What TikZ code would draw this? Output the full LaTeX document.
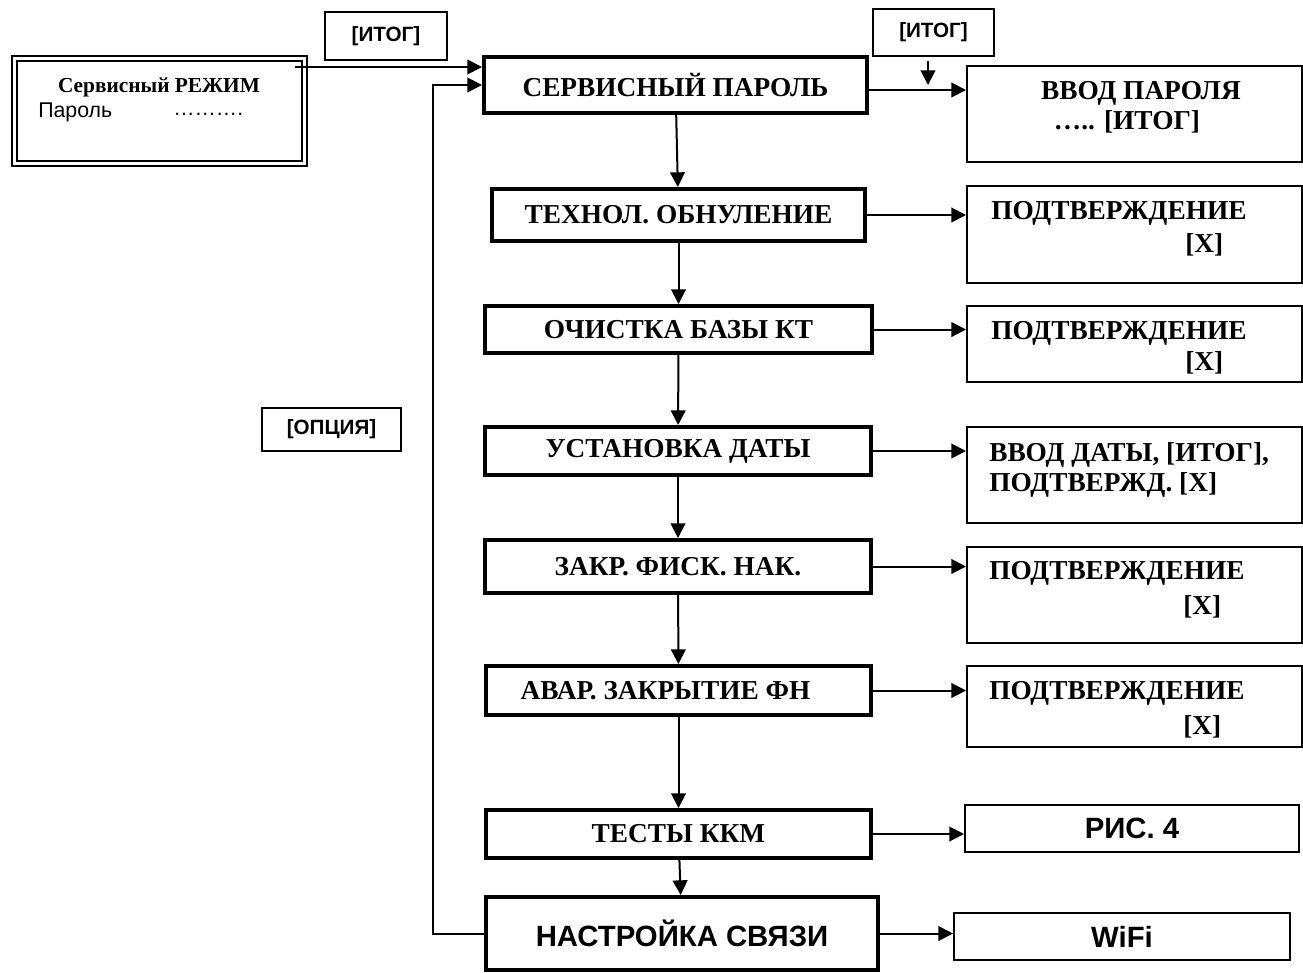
\documentclass[tikz,border=0pt]{standalone}
\usepackage{fontspec}
\setmainfont{Liberation Serif}
\newfontfamily\arialfont{Liberation Sans}
\usetikzlibrary{arrows.meta}
\newlength\pxu
\setlength\pxu{0.75pt}
\newcommand{\bigserif}{\bfseries\fontsize{20.5}{24}\selectfont}
\newcommand{\bigsans}{\arialfont\bfseries\fontsize{22}{26}\selectfont}
\begin{document}
\begin{tikzpicture}[x=0.75pt,y=-0.75pt,>={Triangle[length=11pt,width=11pt]},
  mainbox/.style={draw,line width=3pt,inner sep=0pt,font=\bigserif},
  sidebox/.style={draw,line width=1.5pt,inner sep=0pt},
  keybox/.style={draw,line width=1.2pt,inner sep=0pt,font=\arialfont\bfseries\fontsize{15.5}{18}\selectfont},
  sidetxt/.style={inner sep=0pt,anchor=west,font=\bigserif},
  arr/.style={->,line width=1.5pt}]
\useasboundingbox (0,0) rectangle (1303,972);
% entry box
\node[draw,double,line width=1.5pt,double distance=2.25pt,minimum width=290\pxu,minimum height=104.5\pxu] (svc) at (159.5,111) {};
\node[font=\bfseries\fontsize{16}{19}\selectfont] (svct) at (159,87) {Сервисный РЕЖИМ};
\node[anchor=west,inner sep=0pt,font=\arialfont\fontsize{16}{19}\selectfont] (pwd) at (38,112) {Пароль};
\node[anchor=west,inner sep=0pt,font=\arialfont\fontsize{16}{19}\selectfont] (dots) at (173,114) {……….};
% keys
\node[keybox,minimum width=122\pxu,minimum height=48\pxu] (itog1) at (386,36) {[ИТОГ]};
\node[keybox,minimum width=121\pxu,minimum height=47\pxu] (itog2) at (933.5,32.5) {[ИТОГ]};
\node[keybox,minimum width=139\pxu,minimum height=43\pxu] (opt) at (331.5,429.5) {[ОПЦИЯ]};
% menu column
\node[mainbox,minimum width=383\pxu,minimum height=56\pxu] (sp) at (675.5,85) {СЕРВИСНЫЙ ПАРОЛЬ};
\node[mainbox,minimum width=373\pxu,minimum height=52\pxu] (tech) at (678.5,215) {ТЕХНОЛ. ОБНУЛЕНИЕ};
\node[mainbox,minimum width=387\pxu,minimum height=47\pxu] (clean) at (678.5,329.5) {ОЧИСТКА БАЗЫ КТ};
\node[mainbox,minimum width=386\pxu,minimum height=48\pxu] (date) at (678,451) {УСТАНОВКА ДАТЫ};
\node[mainbox,minimum width=386\pxu,minimum height=53\pxu] (fisc) at (678,566.5) {ЗАКР. ФИСК. НАК.};
\node[mainbox,minimum width=385\pxu,minimum height=49\pxu] (avar) at (678.5,690.5) {АВАР. ЗАКРЫТИЕ ФН\hspace*{26\pxu}};
\node[mainbox,minimum width=385\pxu,minimum height=48\pxu] (test) at (678.5,834) {ТЕСТЫ ККМ};
\node[mainbox,minimum width=392\pxu,minimum height=73\pxu,font=\bigsans] (conn) at (682,933.5) {НАСТРОЙКА СВЯЗИ};
% right column
\node[sidebox,minimum width=335\pxu,minimum height=96\pxu] (r1) at (1134.5,114) {};
\node[font=\bigserif] (r1a) at (1141,93) {ВВОД ПАРОЛЯ};
\node[font=\bigserif] (r1b) at (1127,122) {….. [ИТОГ]};
\node[sidebox,minimum width=335\pxu,minimum height=97\pxu] (r2) at (1134.5,234.5) {};
\node[sidetxt] (r2a) at (991,213) {ПОДТВЕРЖДЕНИЕ};
\node[sidetxt] (r2b) at (1185,245) {[X]};
\node[sidebox,minimum width=335\pxu,minimum height=76\pxu] (r3) at (1134.5,344) {};
\node[sidetxt] (r3a) at (991,333) {ПОДТВЕРЖДЕНИЕ};
\node[sidetxt] (r3b) at (1185,363) {[X]};
\node[sidebox,minimum width=335\pxu,minimum height=96\pxu] (r4) at (1134.5,475) {};
\node[sidetxt] (r4a) at (989,455) {ВВОД ДАТЫ, [ИТОГ],};
\node[sidetxt] (r4b) at (989,485) {ПОДТВЕРЖД. [X]};
\node[sidebox,minimum width=335\pxu,minimum height=96\pxu] (r5) at (1134.5,595) {};
\node[sidetxt] (r5a) at (989,573) {ПОДТВЕРЖДЕНИЕ};
\node[sidetxt] (r5b) at (1183,607) {[X]};
\node[sidebox,minimum width=335\pxu,minimum height=81\pxu] (r6) at (1134.5,706.5) {};
\node[sidetxt] (r6a) at (989,693) {ПОДТВЕРЖДЕНИЕ};
\node[sidetxt] (r6b) at (1183,727) {[X]};
\node[sidebox,minimum width=334\pxu,minimum height=47\pxu,font=\bigsans] (r7) at (1132,828.5) {РИС. 4};
\node[sidebox,minimum width=336\pxu,minimum height=47\pxu,font=\bigsans] (r8) at (1122,936.5) {WiFi};
% connectors
\coordinate (sv) at (295,67);
\draw[arr] (sv) -- (sv -| sp.west);
\coordinate (fb) at (433,85);
\draw[arr] (conn.west) -| (fb) -- (sp.west);
\coordinate (spo) at ([yshift=-3.75pt]sp.east);
\draw[arr] (spo) -- (spo -| r1.west);
\coordinate (itu) at (928,61);
\coordinate (itd) at (928,85);
\draw[arr] (itu) -- (itd);
\draw[arr] (sp) -- (tech);
\draw[arr] (tech) -- (clean);
\draw[arr] (clean) -- (date);
\draw[arr] (date) -- (fisc);
\draw[arr] (fisc) -- (avar);
\draw[arr] (avar) -- (test);
\draw[arr] (test) -- (conn);
\draw[arr] (tech.east) -- (tech.east -| r2.west);
\draw[arr] (clean.east) -- (clean.east -| r3.west);
\draw[arr] (date.east) -- (date.east -| r4.west);
\draw[arr] (fisc.east) -- (fisc.east -| r5.west);
\draw[arr] (avar.east) -- (avar.east -| r6.west);
\draw[arr] (test.east) -- (test.east -| r7.west);
\draw[arr] (conn.east) -- (conn.east -| r8.west);
\end{tikzpicture}
\end{document}
